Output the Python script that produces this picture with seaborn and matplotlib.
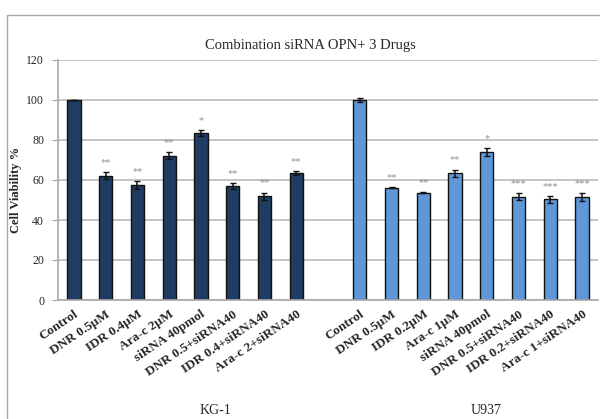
import matplotlib
matplotlib.use("Agg")
import matplotlib.pyplot as plt
from matplotlib.patches import Rectangle
import pandas as pd
import seaborn as sns

# Treatments per cell line
kg1_labels = ["Control", "DNR 0.5\u00b5M", "IDR 0.4\u00b5M", "Ara-c 2\u00b5M", "siRNA 40pmol",
              "DNR 0.5+siRNA40", "IDR 0.4+siRNA40", "Ara-c 2+siRNA40"]
u937_labels = ["Control", "DNR 0.5\u00b5M", "IDR 0.2\u00b5M", "Ara-c 1\u00b5M", "siRNA 40pmol",
               "DNR 0.5+siRNA40", "IDR 0.2+siRNA40", "Ara-c 1+siRNA40"]

# Cell viability (%) and standard error
kg1_values = [100, 62.2, 57.4, 72.2, 83.5, 56.9, 51.9, 63.6]
kg1_errors = [0.2, 1.9, 2.0, 1.7, 1.6, 1.6, 1.8, 1.0]
u937_values = [99.9, 56.2, 53.6, 63.4, 73.9, 51.6, 50.3, 51.4]
u937_errors = [0.9, 0.2, 0.3, 1.8, 1.9, 1.8, 1.6, 1.9]

# Significance marks
kg1_marks = ["", "**", "**", "**", "*", "**", "**", "**"]
u937_marks = ["", "**", "**", "**", "*", "***", "***", "***"]

groups = ["KG-1", "U937"]
colors = {"KG-1": "#1F3D63", "U937": "#5F97D8"}

rows = []
for g, labels, vals, errs, marks in [("KG-1", kg1_labels, kg1_values, kg1_errors, kg1_marks),
                                     ("U937", u937_labels, u937_values, u937_errors, u937_marks)]:
    for lab, v, e, m in zip(labels, vals, errs, marks):
        rows.append({"key": f"{g}|{lab}", "label": lab, "group": g,
                     "value": v, "err": e, "mark": m})
df = pd.DataFrame(rows)

# one empty slot separates the two cell lines
order = [f"KG-1|{l}" for l in kg1_labels] + ["gap"] + [f"U937|{l}" for l in u937_labels]
tick_text = kg1_labels + [""] + u937_labels

sns.set_style("white")
plt.rcParams["font.family"] = ["Liberation Serif", "DejaVu Serif"]

fig = plt.figure(figsize=(6.0, 4.19), dpi=100)
ax = fig.add_axes([58 / 600, 1 - 300 / 419, 540 / 600, 240 / 419])

sns.barplot(data=df, x="key", y="value", hue="group", order=order, hue_order=groups,
            palette=colors, dodge=False, width=0.42, errorbar=None, legend=False,
            edgecolor="#111111", linewidth=1.0, saturation=1, ax=ax)

pos = [order.index(k) for k in df["key"]]
ax.errorbar(pos, df["value"], yerr=df["err"], fmt="none", ecolor="#111111",
            elinewidth=1.1, capsize=2.2, capthick=1.0, zorder=5)
for p, v, e, m in zip(pos, df["value"], df["err"], df["mark"]):
    if m:
        ax.text(p, v + e + 2.5, m, ha="center", va="bottom", fontsize=7.5,
                color="#8E8E8E")

ax.set_xlim(-0.5, len(order) - 0.5)
ax.set_ylim(0, 120)
ax.set_yticks(range(0, 121, 20))
ax.yaxis.grid(True, color="#C4C4C4", linewidth=1.4)
ax.set_axisbelow(True)
for s in ["top", "right"]:
    ax.spines[s].set_visible(False)
for s in ["left", "bottom"]:
    ax.spines[s].set_color("#A8A8A8")
    ax.spines[s].set_linewidth(1.2)

ax.set_xticks(range(len(order)))
ax.set_xticklabels(tick_text, rotation=34, ha="right", rotation_mode="anchor",
                   fontsize=9.5, fontweight="bold")
ax.tick_params(axis="x", length=0, pad=6)
ax.tick_params(axis="y", length=4, color="#A8A8A8", labelsize=8.5, pad=6, left=True)
ax.set_xlabel("")
ax.set_ylabel("Cell Viability %", fontsize=9, fontweight="bold")
ax.yaxis.set_label_coords(-0.067, 0.46)

# group captions under each cell line
group_spans = {"KG-1": (0, len(kg1_labels)), "U937": (len(kg1_labels) + 1, len(order) - 1)}
for g in groups:
    lo, hi = group_spans[g]
    ax.text((lo + hi) / 2 + 0.47, -55, g, ha="center", va="center", fontsize=10)

fig.text(310 / 600, 1 - 45 / 419, "Combination siRNA OPN+ 3 Drugs",
         ha="center", va="center", fontsize=10.5)

# chart-area border
fig.patches.append(Rectangle((7 / 600, -0.2), 1.2, 0.2 + (1 - 15 / 419),
                             transform=fig.transFigure, fill=False,
                             edgecolor="#A6A6A6", linewidth=1.0))

fig.savefig("out.png", dpi=100)
